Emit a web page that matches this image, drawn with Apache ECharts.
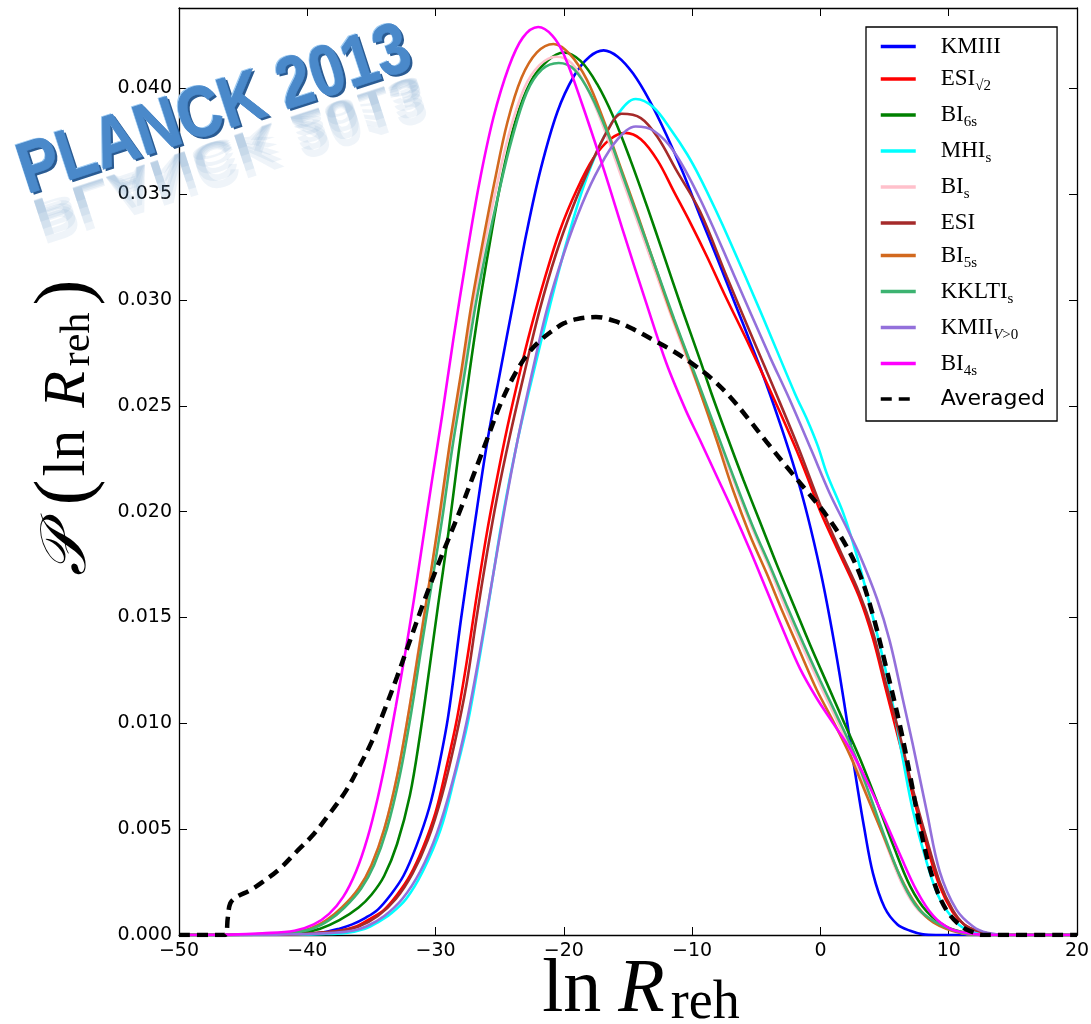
<!DOCTYPE html>
<html><head><meta charset="utf-8">
<script src="https://cdn.jsdelivr.net/npm/echarts@6/dist/echarts.min.js"></script>
<style>html,body{margin:0;padding:0;background:#fff}#c{width:1091px;height:1024px}</style>
</head><body><div id="c"></div>
<script>
// ---- data: [lnR, P] pairs ----
const KMIII = [[-50,0],[-44,0.00001],[-41,0.00003],[-39,0.0001],[-37.5,0.0003],[-36.5,0.0005],[-35.5,0.0008],[-34.5,0.0012],[-33.5,0.0019],[-32.5,0.0028],[-31.5,0.0042],[-30.5,0.0060],[-29.8,0.0078],[-29,0.0104],[-28,0.0150],[-27,0.0192],[-26,0.0232],[-25,0.0265],[-23.9,0.0300],[-22.9,0.0332],[-21.8,0.0362],[-20.5,0.0389],[-19.2,0.0406],[-18.0,0.0415],[-16.9,0.0418],[-15.8,0.0415],[-14.6,0.0407],[-13.3,0.0394],[-12.0,0.0378],[-10.7,0.0360],[-9.4,0.0340],[-8.0,0.0319],[-6.7,0.0299],[-5.4,0.0279],[-4.2,0.0260],[-3.0,0.0239],[-2.0,0.0220],[-1.0,0.0198],[0,0.0172],[0.75,0.0149],[1.5,0.0123],[2.2,0.0096],[2.8,0.0073],[3.4,0.0051],[4.1,0.0029],[5.0,0.0013],[6.0,0.0005],[7.0,0.0002],[8,0.00003],[9,0],[20,0]];
const ESI_SQRT2 = [[-50,0],[-44,0.00001],[-41,0.00004],[-39,0.0001],[-37.5,0.0002],[-36.2,0.0004],[-35,0.0008],[-34,0.0012],[-33,0.0019],[-32,0.0028],[-31,0.0041],[-30,0.0058],[-29.2,0.0078],[-28.4,0.0100],[-27.6,0.0128],[-26.8,0.0160],[-26.0,0.0190],[-25.2,0.0216],[-24.4,0.0240],[-23.5,0.0264],[-22.6,0.0286],[-21.5,0.0310],[-20.3,0.0333],[-19.0,0.0352],[-17.7,0.0367],[-16.4,0.0376],[-15.2,0.0379],[-14.0,0.0376],[-12.7,0.0366],[-11.4,0.0351],[-10.1,0.0336],[-8.8,0.0320],[-7.5,0.0303],[-5.5,0.0278],[-3.6,0.0253],[-2.0,0.0231],[-1.0,0.0216],[0,0.0200],[1.5,0.0180],[3.0,0.0160],[4.1,0.0140],[5.1,0.0116],[6.2,0.0090],[7.2,0.0066],[8.3,0.0042],[9.3,0.0023],[10.3,0.0011],[11.2,0.0005],[12.2,0.0002],[14,0],[20,0]];
const BI_6S = [[-50,0],[-45,0.00001],[-42,0.00005],[-40.5,0.0001],[-39,0.0003],[-37.5,0.0007],[-36,0.0013],[-35,0.0019],[-34,0.0028],[-33,0.0043],[-32,0.0066],[-31.2,0.0095],[-30.5,0.0125],[-29.8,0.0156],[-29.0,0.0190],[-28.2,0.0228],[-27.4,0.0264],[-26.6,0.0297],[-25.8,0.0326],[-24.9,0.0356],[-23.8,0.0384],[-22.6,0.0403],[-21.3,0.0413],[-20.0,0.0417],[-18.7,0.0413],[-17.4,0.0402],[-16.1,0.0386],[-14.8,0.0366],[-13.5,0.0344],[-12.2,0.0321],[-10.8,0.0296],[-9.4,0.0272],[-8.5,0.0256],[-7.3,0.0236],[-6.0,0.0215],[-4.7,0.0195],[-3.4,0.0175],[-2.1,0.0156],[-0.8,0.0137],[0.5,0.0119],[1.8,0.0101],[3.1,0.0083],[4.4,0.0063],[5.7,0.0042],[7.0,0.0023],[8.3,0.0011],[9.8,0.0004],[11.4,0.0001],[13,0],[20,0]];
const MHI_S = [[-50,0],[-42,0.00001],[-39,0.00004],[-37,0.0001],[-35.5,0.0003],[-34.5,0.0006],[-33.5,0.0010],[-32.3,0.0017],[-31,0.0030],[-29.6,0.0050],[-28.5,0.0075],[-27.5,0.0100],[-26.6,0.0130],[-25.7,0.0163],[-24.7,0.0200],[-23.6,0.0234],[-22.4,0.0265],[-21.1,0.0297],[-19.8,0.0327],[-18.5,0.0353],[-17.2,0.0373],[-15.9,0.0387],[-14.4,0.0395],[-13.0,0.0391],[-11.6,0.0380],[-10.4,0.0369],[-9.4,0.0358],[-8.2,0.0343],[-7.0,0.0327],[-4.7,0.0295],[-2.0,0.0256],[-1.0,0.0243],[-0.2,0.0231],[0.5,0.0218],[1.8,0.0199],[2.8,0.0180],[3.85,0.0156],[4.9,0.0130],[5.7,0.0107],[6.4,0.0084],[7.2,0.0059],[8.3,0.0034],[9.3,0.0017],[10.6,0.0006],[11.6,0.0002],[13,0],[20,0]];
const BI_S = [[-50,0],[-44,0.00004],[-41.5,0.0001],[-39.8,0.0003],[-38.5,0.0007],[-37.3,0.0013],[-36,0.0022],[-35,0.0033],[-34,0.0050],[-33,0.0075],[-32.1,0.0105],[-31.3,0.0136],[-30.5,0.0166],[-29.7,0.0196],[-28.9,0.0230],[-28.0,0.0263],[-27.1,0.0297],[-26.2,0.0326],[-25.3,0.0352],[-24.3,0.0378],[-23.1,0.0400],[-21.9,0.0411],[-20.6,0.0415],[-19.4,0.0412],[-18.1,0.0399],[-16.8,0.0380],[-15.5,0.0358],[-14.2,0.0336],[-12.9,0.0314],[-11.6,0.0292],[-10.3,0.0271],[-9.4,0.0257],[-7.9,0.0233],[-6.6,0.0212],[-5.3,0.0192],[-4.0,0.0174],[-2.75,0.0155],[-1.45,0.0137],[-0.1,0.0119],[1.15,0.0103],[2.45,0.0086],[3.75,0.0066],[5.0,0.0045],[6.3,0.0025],[7.6,0.0012],[9.2,0.0005],[11.0,0.0001],[13,0],[20,0]];
const ESI = [[-50,0],[-44,0.00001],[-41,0.00003],[-39,0.0001],[-37.5,0.0002],[-36.0,0.0004],[-34.5,0.0009],[-33.1,0.0017],[-31.8,0.0029],[-30.6,0.0045],[-29.5,0.0066],[-28.5,0.0091],[-27.6,0.0118],[-26.8,0.0150],[-26.0,0.0180],[-25.2,0.0207],[-24.2,0.0236],[-23.1,0.0265],[-21.9,0.0295],[-20.6,0.0322],[-19.3,0.0344],[-17.9,0.0364],[-16.6,0.0380],[-15.5,0.0388],[-14.0,0.0386],[-12.7,0.0377],[-11.2,0.0361],[-9.4,0.0342],[-7.3,0.0311],[-5.5,0.0285],[-3.4,0.0255],[-1.7,0.0230],[0,0.0203],[1.5,0.0182],[3.0,0.0162],[4.1,0.0143],[5.1,0.0119],[6.2,0.0094],[7.2,0.0069],[8.3,0.0045],[9.3,0.0025],[10.3,0.0012],[11.2,0.0005],[12.2,0.0002],[14,0],[20,0]];
const BI_5S = [[-50,0],[-45,0.00002],[-43,0.00006],[-41.5,0.0001],[-39.8,0.0003],[-38.5,0.0007],[-37.3,0.0013],[-36,0.0022],[-35,0.0033],[-34,0.0050],[-33,0.0075],[-32.1,0.0105],[-31.3,0.0135],[-30.5,0.0166],[-29.7,0.0198],[-28.9,0.0232],[-28.0,0.0266],[-27.2,0.0298],[-26.3,0.0328],[-25.4,0.0356],[-24.4,0.0384],[-23.3,0.0405],[-22.1,0.0417],[-20.8,0.0421],[-19.5,0.0416],[-18.2,0.0404],[-16.9,0.0385],[-15.6,0.0363],[-14.3,0.0341],[-13.0,0.0318],[-11.7,0.0295],[-10.4,0.0274],[-9.4,0.0257],[-8.1,0.0234],[-6.8,0.0210],[-5.5,0.0189],[-4.2,0.0171],[-2.9,0.0152],[-1.6,0.0134],[-0.3,0.0116],[1.0,0.0101],[2.3,0.0085],[3.6,0.0066],[4.9,0.0047],[6.2,0.0028],[7.5,0.0014],[8.8,0.0006],[10.9,0.0001],[13,0],[20,0]];
const KKLTI_S = [[-50,0],[-44,0.00003],[-41.3,0.0001],[-39.6,0.0003],[-38.3,0.0007],[-37.1,0.0013],[-35.8,0.0022],[-34.8,0.0033],[-33.8,0.0050],[-32.8,0.0075],[-31.9,0.0105],[-31.1,0.0136],[-30.3,0.0166],[-29.5,0.0196],[-28.7,0.0230],[-27.8,0.0263],[-26.9,0.0297],[-26.0,0.0325],[-25.1,0.0350],[-24.1,0.0375],[-22.9,0.0398],[-21.7,0.0409],[-20.4,0.0412],[-19.2,0.0409],[-17.9,0.0397],[-16.6,0.0379],[-15.3,0.0357],[-14.0,0.0335],[-12.7,0.0313],[-11.4,0.0291],[-10.1,0.0270],[-9.4,0.0259],[-7.8,0.0233],[-6.5,0.0212],[-5.2,0.0192],[-3.9,0.0174],[-2.65,0.0156],[-1.35,0.0138],[0,0.0120],[1.25,0.0104],[2.55,0.0087],[3.85,0.0066],[5.1,0.0045],[6.4,0.0025],[7.7,0.0012],[9.3,0.0005],[11.1,0.0001],[13,0],[20,0]];
const KMII_VPOS = [[-50,0],[-43,0.00001],[-40,0.00005],[-38,0.0001],[-36.5,0.0002],[-35.4,0.0004],[-34,0.0009],[-32.6,0.0017],[-31.2,0.0030],[-29.9,0.0048],[-28.7,0.0072],[-27.6,0.0100],[-26.6,0.0132],[-25.6,0.0167],[-24.6,0.0202],[-23.6,0.0234],[-22.5,0.0265],[-21.3,0.0296],[-20.0,0.0322],[-18.6,0.0345],[-17.2,0.0363],[-15.8,0.0376],[-14.4,0.0382],[-13.0,0.0380],[-11.4,0.0370],[-9.4,0.0348],[-6.75,0.0312],[-4.0,0.0274],[-2.4,0.0253],[-0.7,0.0229],[0.7,0.0209],[2.0,0.0193],[3.1,0.0179],[4.4,0.0159],[5.4,0.0139],[6.4,0.0112],[7.2,0.0090],[8.3,0.0058],[9.3,0.0030],[10.6,0.0012],[11.9,0.0004],[13,0.0001],[14.5,0],[20,0]];
const BI_4S = [[-50,0],[-46,0.00002],[-43.5,0.00008],[-41,0.0002],[-39.5,0.0005],[-38.3,0.0010],[-37.2,0.0018],[-36.2,0.0030],[-35.3,0.0046],[-34.5,0.0065],[-33.8,0.0085],[-33.1,0.0108],[-32.4,0.0132],[-31.7,0.0158],[-31.0,0.0186],[-30.3,0.0214],[-29.5,0.0245],[-28.6,0.0282],[-27.6,0.0320],[-26.6,0.0355],[-25.5,0.0386],[-24.3,0.0410],[-23.2,0.0424],[-22.0,0.0429],[-20.9,0.0425],[-20.0,0.0416],[-18.6,0.0393],[-16.9,0.0362],[-15.3,0.0331],[-13.6,0.0299],[-12.0,0.0270],[-10.5,0.0248],[-9.4,0.0234],[-8.1,0.0217],[-6.8,0.0200],[-5.5,0.0182],[-4.2,0.0163],[-2.9,0.0144],[-1.6,0.0126],[-0.3,0.0112],[1.0,0.0100],[2.3,0.0088],[3.6,0.0073],[4.9,0.0056],[6.2,0.0038],[7.5,0.0021],[8.8,0.0009],[10.1,0.0003],[11.4,0.0001],[13,0],[20,0]];
const AVERAGED = [[-50,0],[-46.4,0],[-46.2,0.0008],[-46.0,0.0015],[-45.5,0.0018],[-44.5,0.0021],[-43.5,0.0025],[-42.2,0.0031],[-40.9,0.0039],[-39.6,0.0047],[-38.3,0.0057],[-37.0,0.0068],[-36.0,0.0079],[-35.0,0.0091],[-34.0,0.0106],[-33.0,0.0122],[-32.0,0.0139],[-31.0,0.0156],[-30.0,0.0172],[-29.0,0.0187],[-28.0,0.0202],[-27.0,0.0218],[-26.0,0.0234],[-25.0,0.0250],[-24.0,0.0263],[-23.0,0.0273],[-22.0,0.0280],[-21.0,0.0285],[-20.0,0.0289],[-19.0,0.0291],[-17.5,0.0292],[-16.0,0.0290],[-14.5,0.0286],[-13.0,0.0281],[-11.5,0.0276],[-10.0,0.0270],[-8.5,0.0263],[-7.0,0.0254],[-5.5,0.0243],[-4.2,0.0233],[-2.6,0.0221],[-1.1,0.0210],[0.5,0.0198],[2.0,0.0184],[3.1,0.0170],[4.1,0.0151],[5.1,0.0127],[6.2,0.0099],[7.0,0.0075],[7.8,0.0050],[8.8,0.0026],[9.8,0.0012],[11.0,0.0004],[12.0,0.0001],[12.5,0],[20,0]];

const SERIES_NAMES = ['KMIII','ESI√2','BI6s','MHIs','BIs','ESI','BI5s','KKLTIs','KMIIV>0','BI4s','Averaged'];
const SERIES_DATA = [KMIII, ESI_SQRT2, BI_6S, MHI_S, BI_S, ESI, BI_5S, KKLTI_S, KMII_VPOS, BI_4S, AVERAGED];
const SERIES_COLORS = ['#0000ff','#ff0000','#008000','#00ffff','#ffc0cb','#a52a2a','#d2691e','#3cb371','#9370db','#ff00ff','#000000'];
const LEGEND_TEXT = {
  'KMIII':'{n|KMIII}', 'ESI√2':'{n|ESI}{s|√2}', 'BI6s':'{n|BI}{s|6s}', 'MHIs':'{n|MHI}{s|s}',
  'BIs':'{n|BI}{s|s}', 'ESI':'{n|ESI}', 'BI5s':'{n|BI}{s|5s}', 'KKLTIs':'{n|KKLTI}{s|s}',
  'KMIIV>0':'{n|KMII}{si|V}{s|>0}', 'BI4s':'{n|BI}{s|4s}', 'Averaged':'{a|Averaged}'
};
const X_MIN = -50, X_MAX = 20, X_STEP = 10;
const Y_MIN = 0, Y_MAX = 0.0438, Y_STEP = 0.005;

const chart = echarts.init(document.getElementById('c'), null, {renderer:'canvas'});
const SERIF = '"Liberation Serif", "DejaVu Serif", serif';
const LOGO_FONT = 'bold 72px "Liberation Sans", Arial, sans-serif';
const LOGO_SX = 0.85;

const series = SERIES_NAMES.map((name, i) => {
  const dashed = name === 'Averaged';
  return {
    name, type:'line', data: SERIES_DATA[i], xAxisIndex:0, yAxisIndex:0,
    showSymbol:false, symbol:'none', smooth:0.35,
    lineStyle:{color:SERIES_COLORS[i], width: dashed ? 4.5 : 2.6, type: dashed ? [11,7] : 'solid', cap:'butt'},
    itemStyle:{color:SERIES_COLORS[i]}, emphasis:{disabled:true}, silent:true, animation:false, z:2
  };
});

const minus = v => (v < 0 ? '\u2212' + Math.abs(v) : String(v));
const axisLineStyle = {show:true, onZero:false, lineStyle:{color:'#000', width:1.3}};
const tickStyle = {show:true, inside:true, length:8, lineStyle:{color:'#000', width:1}};

const logoText = (x, y, extra) => Object.assign({
  type:'text', x, y, scaleX:LOGO_SX,
  style:Object.assign({text:'PLANCK 2013', font:LOGO_FONT, x:0, y:14, textAlign:'left', textVerticalAlign:'bottom',
         align:'left', verticalAlign:'bottom'}, extra.style)
}, extra.el || {});

// reflection layers of the logo (stacked faint copies give a fading mirror image)
const reflection = [0.3, 0.45, 0.6, 0.75, 0.9].map(s =>
  logoText(0, 5, {el:{scaleY:-s, z:100}, style:{fill:'rgba(95,145,200,0.10)'}}));

chart.setOption({
  backgroundColor:'#fff',
  animation:false,
  grid:{left:179, right:14, top:8, bottom:89, containLabel:false, outerBoundsMode:'none'},
  xAxis:[
    {type:'value', min:X_MIN, max:X_MAX, interval:X_STEP, position:'bottom',
     axisLine:axisLineStyle, axisTick:tickStyle, splitLine:{show:false},
     axisLabel:{formatter:minus, fontFamily:'DejaVu Sans', fontSize:19, color:'#000', margin:7},
     name:'{a|ln}{sp| }{b|R}{c|reh}', nameLocation:'middle', nameGap:16, nameMoveOverlap:false,
     nameTextStyle:{padding:[0,0,0,26], rich:{
       a:{fontFamily:SERIF, fontSize:76, lineHeight:80, color:'#000'},
       sp:{fontFamily:SERIF, fontSize:76, lineHeight:80, width:17},
       b:{fontFamily:SERIF, fontSize:76, lineHeight:80, fontStyle:'italic', color:'#000', padding:[0,6,0,0]},
       c:{fontFamily:SERIF, fontSize:54, lineHeight:30, verticalAlign:'bottom', color:'#000'}}}},
    {type:'value', min:X_MIN, max:X_MAX, interval:X_STEP, position:'top',
     axisLine:axisLineStyle, axisTick:tickStyle, splitLine:{show:false}, axisLabel:{show:false}}
  ],
  yAxis:[
    {type:'value', min:Y_MIN, max:Y_MAX, interval:Y_STEP, position:'left',
     axisLine:axisLineStyle, axisTick:tickStyle, splitLine:{show:false},
     axisLabel:{formatter:v => v.toFixed(3), showMaxLabel:false, fontFamily:'DejaVu Sans', fontSize:19, color:'#000', margin:7},
     name:'{p|𝒫}{sp| }{q|(}{a|ln}{sp| }{b|R}{c|reh}{q|)}', nameLocation:'middle', nameRotate:90, nameGap:80, nameMoveOverlap:false,
     nameTextStyle:{padding:[0,0,0,90], rich:{
       p:{fontFamily:SERIF, fontSize:64, lineHeight:62, fontStyle:'italic', color:'#000'},
       sp:{fontFamily:SERIF, fontSize:60, lineHeight:62, width:22},
       q:{fontFamily:SERIF, fontSize:78, lineHeight:62, color:'#000', padding:[0,3,0,3]},
       a:{fontFamily:SERIF, fontSize:60, lineHeight:62, color:'#000'},
       b:{fontFamily:SERIF, fontSize:60, lineHeight:62, fontStyle:'italic', color:'#000', padding:[0,5,0,0]},
       c:{fontFamily:SERIF, fontSize:42, lineHeight:26, verticalAlign:'bottom', color:'#000', padding:[0,4,0,0]}}}},
    {type:'value', min:Y_MIN, max:Y_MAX, interval:Y_STEP, position:'right',
     axisLine:axisLineStyle, axisTick:tickStyle, splitLine:{show:false}, axisLabel:{show:false}}
  ],
  legend:{
    orient:'vertical', left:866, top:27, itemWidth:35, itemHeight:14, itemGap:9.5,
    padding:[8,12,11,13], borderColor:'#000', borderWidth:1.3, borderRadius:0, backgroundColor:'#fff',
    selectedMode:false, data:SERIES_NAMES,
    itemStyle:{color:'rgba(0,0,0,0)', borderColor:'rgba(0,0,0,0)', borderWidth:0},
    lineStyle:{width:3.5},
    formatter: name => LEGEND_TEXT[name],
    textStyle:{padding:[0,0,0,20], rich:{
      n:{fontFamily:SERIF, fontSize:23, lineHeight:30, color:'#000'},
      s:{fontFamily:SERIF, fontSize:15, lineHeight:12, verticalAlign:'bottom', color:'#000'},
      si:{fontFamily:SERIF, fontSize:15, lineHeight:12, verticalAlign:'bottom', fontStyle:'italic', color:'#000'},
      a:{fontFamily:'DejaVu Sans', fontSize:22, lineHeight:30, color:'#000'}}}
  },
  graphic:[{
    type:'group', x:28, y:196, rotation:0.315, z:100, silent:true,
    children: reflection.concat([
      logoText(1.8, 2.8, {el:{z:101}, style:{fill:'#2a5b92'}}),
      logoText(-1, -1.4, {el:{z:102}, style:{fill:'#9ccaf2'}}),
      logoText(0, 0, {el:{z:103}, style:{fill:'#4a89ca', stroke:'#4380c2', lineWidth:0.8}})
    ])
  }],
  series
});
</script></body></html>
